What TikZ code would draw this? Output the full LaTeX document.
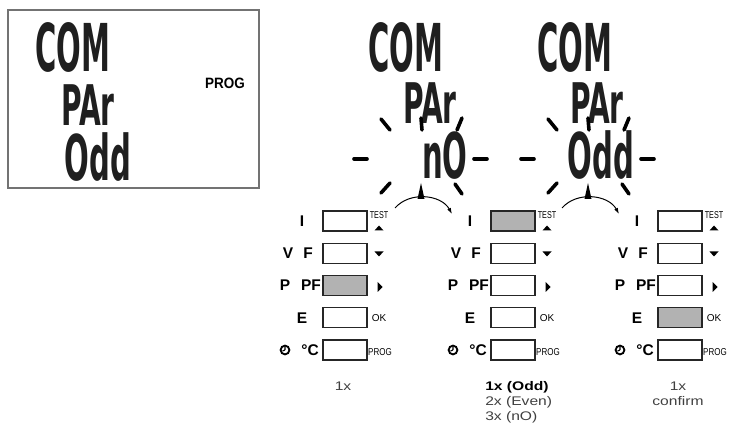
\documentclass[tikz,border=0pt]{standalone}
\usepackage{fontspec}
\setmainfont{Liberation Sans}
\newfontfamily\segfont{DejaVu Sans}
\usetikzlibrary{arrows.meta,positioning}

\tikzset{
  seg/.style={font=\segfont\bfseries\fontsize{66}{66}\selectfont, xscale=0.44, inner sep=0pt, anchor=base, text=black!88},
  seglow/.style={seg, font=\segfont\bfseries\fontsize{63}{63}\selectfont, xscale=1.05},
  segsmall/.style={seg, font=\segfont\bfseries\fontsize{56}{56}\selectfont, xscale=1.14},
  flash/.style={line width=3.6pt, line cap=round},
  key/.style={draw=black!85, line width=1.3pt, minimum width=44pt, minimum height=20pt, inner sep=0pt},
  keylabel/.style={font=\bfseries\fontsize{15.5}{15.5}\selectfont, inner sep=0pt},
  mini/.style={font=\fontsize{10}{10}\selectfont, inner sep=0pt},
  note/.style={font=\fontsize{12.5}{15}\selectfont, xscale=1.25, inner sep=0pt, text=black!75},
}

\begin{document}
\begin{tikzpicture}[x=1pt, y=-1pt]
  \useasboundingbox (0,0) rectangle (729,438);

  % display at rest
  \draw[black!55, line width=1.1pt] (8,10) rectangle (259,188);
  \node[seg] (aCOM) at (73,72) {COM};
  \node[segsmall] (aPAr) at (88,126) {PAr};
  \node[seglow] (aOdd) at (98,181) {Odd};
  \node[font=\bfseries\fontsize{15}{15}\selectfont, xscale=0.9, inner sep=0pt] (aPROG) at (225,83) {PROG};

  % blinking displays
  \node[seg] (bCOM) at (406,72) {COM};
  \node[segsmall] (bPAr) at (430,124) {PAr};
  \node[seglow] (bnO) at (445,179) {nO};
  \node[seg] (cCOM) at (575,72) {COM};
  \node[segsmall] (cPAr) at (597,124) {PAr};
  \node[seglow] (cOdd) at (601,179) {Odd};

  \coordinate (bFlash) at (421,157);
  \coordinate (cFlash) at (588,157);
  \foreach \c in {bFlash, cFlash} {
    \begin{scope}[shift={(\c)}]
      \foreach \xa/\ya/\xb/\yb in {-67/2/-54/2, 53/2/66/2, -40/-38/-31/-27, 0/-39/1/-27, 41/-39/36/-27, -40/36/-31/26, 34/27/41/37}
        \draw[flash] (\xa,\ya) -- (\xb,\yb);
      \fill (-3.5,42) -- (0,26) -- (3.5,42) -- cycle;
    \end{scope}
  }

  \coordinate (bArcS) at (395,208);
  \coordinate (bArcE) at (452,214);
  \coordinate (cArcS) at (562,208);
  \coordinate (cArcE) at (619,214);
  \draw[line width=1pt, -{Latex[length=6pt,width=4pt]}] (bArcS) to[bend left=55] (bArcE);
  \draw[line width=1pt, -{Latex[length=6pt,width=4pt]}] (cArcS) to[bend left=55] (cArcE);

  % keypads
  \foreach \p/\dx/\hit in {a/0/3, b/168/1, c/335/4} {
    \foreach \r in {1,...,5} {
      \pgfmathsetmacro\yy{221+32.25*(\r-1)}
      \pgfmathtruncatemacro\shade{\r==\hit ? 30 : 0}
      \node[key, fill=black!\shade] (\p key\r) at (345+\dx,\yy) {};
    }
    \node[keylabel] (\p I) at (302+\dx,221) {I};
    \node[keylabel] (\p V) at (288+\dx,253.25) {V};
    \node[keylabel] (\p F) at (308+\dx,253.25) {F};
    \node[keylabel] (\p P) at (285+\dx,285.5) {P};
    \node[keylabel] (\p PF) at (311+\dx,285.5) {PF};
    \node[keylabel] (\p E) at (302+\dx,317.75) {E};
    \node[keylabel] (\p C) at (310+\dx,350) {°C};
    \coordinate (\p clk) at (285+\dx,350);
    \draw[line width=1.8pt] (\p clk) circle[radius=4.4pt];
    \draw[line width=1.2pt] (\p clk) -- ++(0,-3) (\p clk) -- ++(-2.5,1);

    \node[mini, xscale=0.72] (\p test) at (379+\dx,215) {TEST};
    \node[mini] (\p ok) at (379+\dx,318) {OK};
    \node[mini, xscale=0.8] (\p prog) at (380+\dx,352) {PROG};
    \coordinate (\p up) at (379+\dx,228);
    \coordinate (\p dn) at (379+\dx,254);
    \coordinate (\p rt) at (380+\dx,287);
    \fill (\p up) ++(-4.5,2.5) -- ++(9,0) -- ++(-4.5,-5) -- cycle;
    \fill (\p dn) ++(-4.5,-2.5) -- ++(9,0) -- ++(-4.5,5) -- cycle;
    \fill (\p rt) ++(-2.5,-5) -- ++(0,10) -- ++(5,-5) -- cycle;
  }

  % press counts
  \node[note, anchor=base] (aNote) at (343,391) {1x};
  \node[note, anchor=base west, font=\bfseries\fontsize{12.5}{15}\selectfont, text=black] (bNote1) at (485,391) {1x (Odd)};
  \node[note, anchor=base west] (bNote2) at (485,406) {2x (Even)};
  \node[note, anchor=base west] (bNote3) at (485,421) {3x (nO)};
  \node[note, anchor=base] (cNote1) at (678,391) {1x};
  \node[note, anchor=base] (cNote2) at (678,406) {confirm};
\end{tikzpicture}
\end{document}
